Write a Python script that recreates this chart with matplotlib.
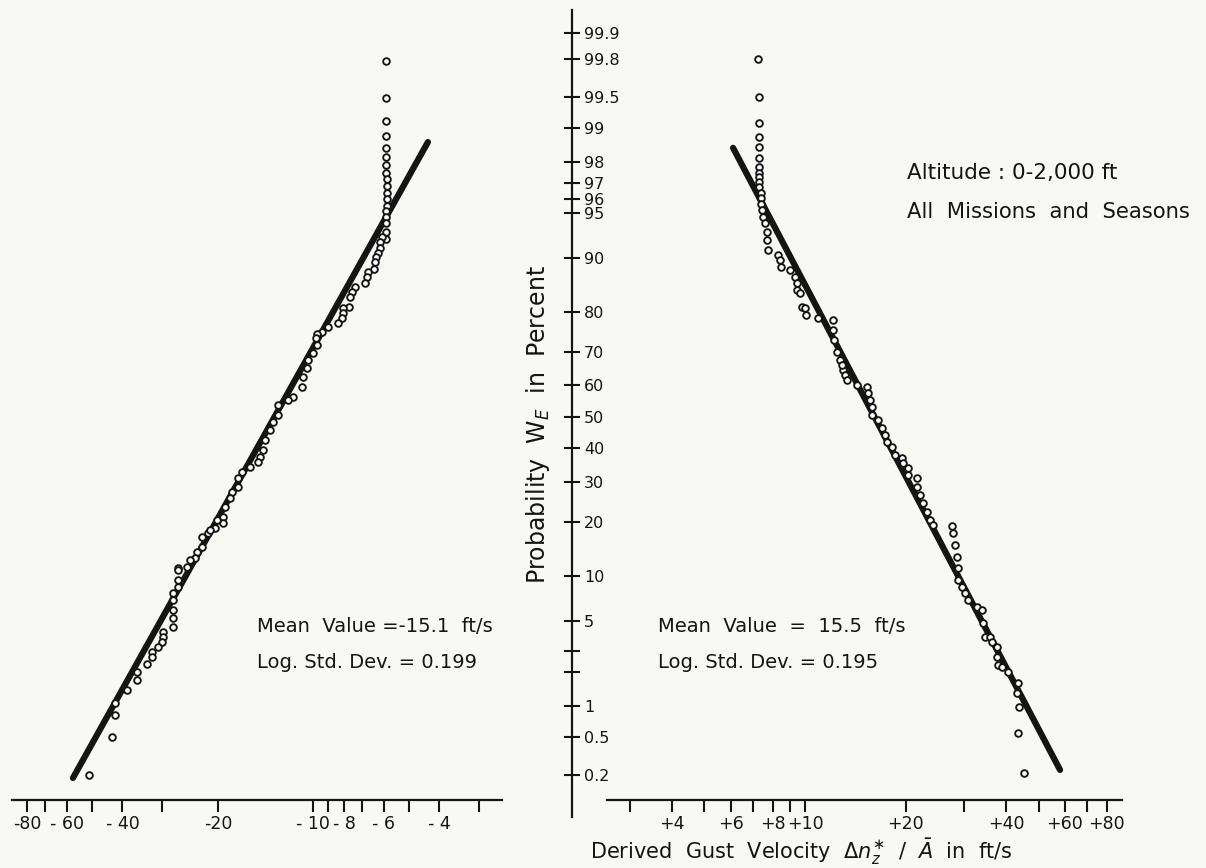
import matplotlib
matplotlib.use("Agg")
import matplotlib.pyplot as plt
import numpy as np
from statistics import NormalDist
from matplotlib.ticker import NullFormatter, NullLocator

# ---- data ----
# negative gusts (ft/s) and cumulative probability (%)
neg_gust = [-5.90, -5.90, -5.90, -5.90, -5.90, -5.90, -5.90, -5.90, -5.85, -5.85,
            -5.85, -5.85, -5.85, -5.90, -5.90, -5.90, -5.90, -5.90, -6.07, -6.15,
            -6.15, -6.25, -6.34, -6.38, -6.43, -6.71, -6.76, -6.87, -7.38, -7.55,
            -7.66, -7.71, -8.05, -8.05, -8.11, -8.35, -8.98, -9.38, -9.73, -9.80,
            -9.73, -10.02, -10.39, -10.47, -10.77, -10.85, -11.58, -12.02, -12.92, -12.92,
            -13.40, -13.70, -14.20, -14.41, -14.73, -14.94, -15.83, -16.79, -17.27, -17.27,
            -18.04, -18.31, -18.98, -19.26, -19.26, -20.12, -20.42, -21.47, -21.17, -22.44,
            -22.44, -23.28, -23.60, -24.49, -25.03, -26.72, -26.72, -26.72, -26.72, -27.70,
            -27.70, -27.70, -27.70, -27.70, -29.79, -29.79, -30.01, -30.90, -32.28, -32.28,
            -33.45, -35.98, -35.98, -38.71, -42.21, -42.21, -43.14, -50.95]
neg_prob = [99.79, 99.49, 99.14, 98.81, 98.48, 98.18, 97.87, 97.52, 97.23, 96.84,
            96.42, 96.03, 95.52, 95.13, 94.62, 94.07, 93.16, 92.39, 92.62, 92.04,
            91.31, 90.64, 90.10, 89.38, 88.32, 87.83, 86.99, 85.95, 85.22, 84.28,
            83.27, 81.19, 80.98, 79.87, 78.71, 77.52, 76.55, 75.30, 74.79, 73.76,
            71.88, 69.67, 67.68, 65.33, 62.63, 59.53, 56.40, 55.44, 53.85, 50.64,
            48.40, 45.82, 42.66, 39.55, 37.38, 35.87, 34.38, 32.92, 31.17, 28.67,
            27.32, 25.73, 23.45, 21.05, 19.68, 20.36, 18.59, 17.54, 18.17, 16.72,
            14.78, 13.87, 12.83, 12.50, 11.38, 11.22, 10.92, 9.49, 8.57, 7.84,
            7.05, 6.02, 5.29, 4.56, 4.18, 3.84, 3.51, 3.21, 2.93, 2.67,
            2.35, 2.01, 1.72, 1.40, 1.07, 0.83, 0.50, 0.20]

# positive gusts (ft/s) and cumulative probability (%)
pos_gust = [7.23, 7.28, 7.28, 7.28, 7.28, 7.28, 7.28, 7.28, 7.28, 7.28,
            7.28, 7.38, 7.38, 7.38, 7.43, 7.49, 7.59, 7.70, 7.70, 7.75,
            8.30, 8.42, 8.48, 9.02, 9.33, 9.46, 9.46, 9.66, 9.79, 10.00,
            10.07, 10.94, 12.13, 12.13, 12.22, 12.47, 12.73, 13.00,
            12.91, 13.18, 13.36, 14.31, 15.33, 15.44, 15.65, 15.87, 15.87, 16.54,
            17.00, 17.36, 17.60, 18.22, 18.60, 19.52, 19.66, 20.35, 20.35, 21.64,
            21.64, 22.10, 22.56, 23.19, 23.68, 24.17, 27.55, 27.74, 28.12, 28.52,
            28.71, 28.71, 29.52, 30.13, 30.76, 32.73, 33.88, 34.12, 34.59, 35.81,
            36.31, 37.58, 37.58, 37.83, 38.89, 40.53, 43.42, 43.12, 43.72, 43.42,
            45.25]
pos_prob = [99.80, 99.50, 99.10, 98.79, 98.51, 98.14, 97.79, 97.52, 97.33, 97.07,
            96.79, 96.42, 96.10, 95.67, 95.21, 94.62, 94.07, 93.16, 92.28, 91.05,
            90.38, 89.67, 88.62, 88.16, 86.99, 85.95, 84.66, 84.08, 81.19, 80.98,
            79.41, 78.71, 78.23, 75.80, 73.21, 69.95, 67.68, 64.73,
            66.21, 63.22, 61.70, 60.15, 59.53, 57.66, 55.44, 53.20, 50.64, 49.04,
            46.49, 44.24, 42.03, 40.48, 37.98, 37.07, 35.57, 34.08, 32.03, 31.17,
            28.67, 26.51, 24.45, 22.24, 20.36, 19.24, 19.02, 17.54, 15.15, 13.01,
            11.22, 9.49, 8.57, 7.84, 7.05, 6.32, 6.02, 4.87, 3.84, 3.84,
            3.51, 3.21, 2.67, 2.30, 2.22, 2.01, 1.62, 1.32, 0.98, 0.55,
            0.21]

# fitted log-normal lines (end points)
neg_fit_gust = [-57.3, -4.35]
neg_fit_prob = [0.184, 98.65]
pos_fit_gust = [6.09, 58.0]
pos_fit_prob = [98.48, 0.226]

prob_ticks = [0.2, 0.5, 1, 2, 3, 5, 10, 20, 30, 40, 50, 60, 70, 80, 90,
              95, 96, 97, 98, 99, 99.5, 99.8, 99.9]
prob_labels = ['0.2', '0.5', '1', '', '', '5', '10', '20', '30', '40', '50', '60',
               '70', '80', '90', '95', '96', '97', '98', '99', '99.5', '99.8', '99.9']

neg_major = [-80, -60, -40, -20, -10, -8, -6, -4]
neg_labels = ['-80', '- 60', '- 40', '-20', '- 10', '- 8', '- 6', '- 4']
neg_minor = [-70, -50, -30, -9, -7, -5, -3]
pos_major = [4, 6, 8, 10, 20, 40, 60, 80]
pos_labels = ['+4', '+6', '+8', '+10', '+20', '+40', '+60', '+80']
pos_minor = [3, 5, 7, 9, 30, 50, 70]

# ---- normal probability scale ----
nd = NormalDist()

def to_z(p):
    p = np.clip(np.asarray(p, dtype=float), 1e-4, 100 - 1e-4)
    return np.vectorize(lambda q: nd.inv_cdf(q / 100), otypes=[float])(p)

def from_z(z):
    return np.vectorize(lambda t: nd.cdf(t) * 100, otypes=[float])(np.asarray(z, dtype=float))

W, H = 1206, 868
ink = '#141414'
paper = '#f8f8f5'
plt.rcParams['font.family'] = ['DejaVu Sans']
plt.rcParams['mathtext.fontset'] = 'dejavusans'

def box(x0, y0, x1, y1):
    return [x0 / W, 1 - y1 / H, (x1 - x0) / W, (y1 - y0) / H]

fig = plt.figure(figsize=(W / 100, H / 100), dpi=100, facecolor=paper)

p_low, p_high = 0.0645, 99.947
p_base = 0.103

ax_l = fig.add_axes(box(12, 10, 502, 817))
ax_r = fig.add_axes(box(607, 10, 1122, 817))
ax_c = fig.add_axes(box(572, 10, 572.01, 817))

for ax in (ax_l, ax_r, ax_c):
    ax.set_yscale('function', functions=(to_z, from_z))
    ax.set_ylim(p_low, p_high)
    ax.patch.set_visible(False)
    for s in ax.spines.values():
        s.set_visible(False)

# left half: negative gusts
ax_l.set_xscale('log')
ax_l.plot(-np.array(neg_fit_gust), neg_fit_prob, color=ink, lw=4.5,
          solid_capstyle='round', zorder=2)
ax_l.plot(-np.array(neg_gust), neg_prob, 'o', ms=4.8, mfc='white', mec=ink,
          mew=1.35, zorder=3)
ax_l.set_xlim(89.2, 2.54)
ax_l.set_xticks(-np.array(neg_major))
ax_l.set_xticklabels(neg_labels)
ax_l.set_xticks(-np.array(neg_minor), minor=True)
ax_l.xaxis.set_minor_formatter(NullFormatter())

# right half: positive gusts
ax_r.set_xscale('log')
ax_r.plot(pos_fit_gust, pos_fit_prob, color=ink, lw=4.5,
          solid_capstyle='round', zorder=2)
ax_r.plot(pos_gust, pos_prob, 'o', ms=4.8, mfc='white', mec=ink,
          mew=1.35, zorder=3)
ax_r.set_xlim(2.554, 88.9)
ax_r.set_xticks(pos_major)
ax_r.set_xticklabels(pos_labels)
ax_r.set_xticks(pos_minor, minor=True)
ax_r.xaxis.set_minor_formatter(NullFormatter())

for ax in (ax_l, ax_r):
    ax.spines['bottom'].set_visible(True)
    ax.spines['bottom'].set_position(('data', p_base))
    ax.spines['bottom'].set_linewidth(1.6)
    ax.spines['bottom'].set_color(ink)
    ax.tick_params(axis='x', which='both', direction='out', length=8.5, width=1.5,
                   color=ink, pad=2, labelsize=12.5, labelcolor=ink)
    ax.tick_params(axis='y', which='both', left=False, labelleft=False)

# central probability axis
ax_c.spines['right'].set_visible(True)
ax_c.spines['right'].set_linewidth(1.6)
ax_c.spines['right'].set_color(ink)
ax_c.yaxis.tick_right()
ax_c.set_yticks(prob_ticks)
ax_c.set_yticklabels(prob_labels)
ax_c.yaxis.set_minor_locator(NullLocator())
ax_c.tick_params(axis='y', direction='inout', length=11, width=1.5, color=ink,
                 pad=3, labelsize=11.5, labelcolor=ink)
ax_c.set_xticks([])

# texts
def txt(x, y, s, **kw):
    fig.text(x / W, 1 - y / H, s, color=ink, **kw)

txt(538, 425, r'Probability  W$_E$  in  Percent', rotation=90, ha='center',
    va='center', fontsize=17)
txt(590, 852, r'Derived  Gust  Velocity  $\Delta n_z^{\ast}$  /  $\bar{A}$  in  ft/s',
    ha='left', va='center', fontsize=15)
txt(257, 627, 'Mean  Value =-15.1  ft/s', ha='left', va='center', fontsize=14)
txt(257, 663, 'Log. Std. Dev. = 0.199', ha='left', va='center', fontsize=14)
txt(658, 627, 'Mean  Value  =  15.5  ft/s', ha='left', va='center', fontsize=14)
txt(658, 663, 'Log. Std. Dev. = 0.195', ha='left', va='center', fontsize=14)
txt(907, 173, 'Altitude : 0-2,000 ft', ha='left', va='center', fontsize=15.5)
txt(907, 212, 'All  Missions  and  Seasons', ha='left', va='center', fontsize=15.2)

fig.savefig('out.png', dpi=100, facecolor=paper)
